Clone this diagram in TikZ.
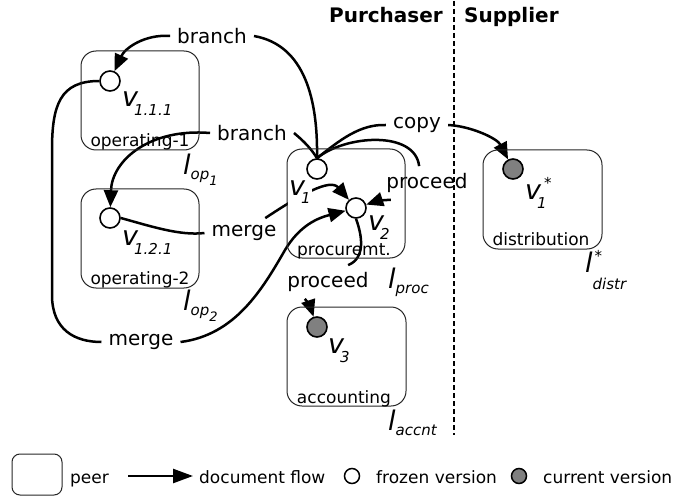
\documentclass[tikz,border=0pt]{standalone}
\usepackage{fontspec}
\setmainfont{DejaVu Sans}
\usetikzlibrary{arrows.meta}
\newcommand\Vsz{\fontsize{27}{28}\selectfont\itshape}
\newcommand\Ssz{\fontsize{15}{16}\selectfont\itshape}
\newcommand\SSsz{\fontsize{13}{14}\selectfont\itshape}
\newcommand\mkver[1]{{\Vsz v}\hspace{-4pt}\raisebox{-9pt}{\Ssz #1}}
\newcommand\mkloc[2]{{\Vsz l}\raisebox{-5pt}{\Ssz #1\raisebox{-6pt}{\SSsz #2}}}
\begin{document}
\begin{tikzpicture}[x=1pt,y=-1pt,
  peer/.style={draw=black!85, line width=1pt, rounded corners=15pt, inner sep=0pt},
  frozen/.style={circle, draw, line width=1.6pt, fill=white, minimum size=20pt, inner sep=0pt},
  current/.style={frozen, fill=black!50},
  flow/.style={line width=2.5pt, -{Triangle[length=17pt,width=14pt]}},
  plain/.style={line width=2.5pt},
  elab/.style={font=\fontsize{20}{24}\selectfont, inner sep=7pt},
  plab/.style={font=\fontsize{17}{18}\selectfont, inner sep=0pt, anchor=base},
  vlab/.style={inner sep=0pt, anchor=base west},
  leg/.style={font=\fontsize{17}{20}\selectfont, inner sep=0pt, anchor=base west},
  head/.style={font=\fontsize{20}{24}\selectfont\bfseries, inner sep=0pt}
]
\useasboundingbox (0,0) rectangle (674,497);

% headers and swimlane divider
\node[head, anchor=base east] (hp) at (443,23) {Purchaser};
\node[head, anchor=base west] (hs) at (464,23) {Supplier};
\coordinate (dtop) at (454,1);
\coordinate (dbot) at (454,435);
\draw[line width=1.3pt, dash pattern=on 5pt off 3pt] (dtop) -- (dbot);

% versions
\node[frozen] (v111) at (110,81) {};
\node[frozen] (v121) at (110,218) {};
\node[frozen] (v1) at (317,169) {};
\node[frozen] (v2) at (356,208) {};
\node[current] (v3) at (317,327) {};
\node[current] (v1s) at (513,169) {};

% edge labels
\node[elab] (brT) at (212,36) {branch};
\node[elab] (brM) at (252,133) {branch};
\node[elab] (mgM) at (244,233) {merge};
\node[elab] (mgB) at (141,342) {merge};
\node[elab] (cp) at (417,125) {copy};
\node[elab] (prR) at (427,183) {proceed};
\node[elab] (prL) at (328,282) {proceed};

% edges
\draw[plain] (v1.north) .. controls (318,100) and (305,45) .. (brT.east);
\draw[flow] (brT.west) .. controls (145,34) and (125,48) .. (v111);

\draw[plain] (v1.north) .. controls (312,150) and (305,142) .. (brM.east);
\draw[flow] (brM.west) .. controls (150,128) and (112,160) .. (v121);

\draw[plain] (v121.east) .. controls (150,226) and (180,236) .. (mgM.west);
\draw[flow] (mgM.35) .. controls (300,195) and (330,178) .. (v2);

\draw[plain] (v111.west) .. controls (60,81) and (52,105) .. (52,150) -- (52,295)
  .. controls (52,330) and (75,342) .. (mgB.west);
\draw[flow] (mgB.east) .. controls (235,335) and (262,290) .. (285,250)
  .. controls (300,225) and (318,218) .. (v2);

\draw[plain] (v1.north) .. controls (340,140) and (360,124) .. (cp.west);
\draw[flow] (cp.east) .. controls (470,126) and (497,138) .. (v1s);

\draw[plain] (v1.north) .. controls (345,135) and (415,130) .. (prR.115);
\draw[flow] (prR.205) .. controls (380,200) and (374,202) .. (v2);

\draw[plain] (v2.south) .. controls (362,235) and (366,258) .. (prL.40);
\draw[flow] (prL.216) .. controls (306,300) and (310,306) .. (v3);

% version labels
\node[vlab] (t111) at (122,107) {\mkver{1.1.1}};
\node[vlab] (t121) at (122,245) {\mkver{1.2.1}};
\node[vlab, fill=white, inner sep=1pt] (t1) at (288,195) {\mkver{1}};
\node[vlab] (t2) at (368,230) {\mkver{2}};
\node[vlab] (t3) at (328,353) {\mkver{3}};
\node[vlab] (t1s) at (525,200) {{\Vsz v}\hspace{-4pt}\makebox[0pt][l]{\raisebox{-9pt}{\Ssz 1}}\hspace{7pt}\raisebox{11pt}{\Ssz *}};

% peers
\node[peer, minimum width=118pt, minimum height=99pt] (op1) at (140,100.5) {};
\node[peer, minimum width=118pt, minimum height=99pt] (op2) at (140,238.5) {};
\node[peer, minimum width=118pt, minimum height=109pt] (proc) at (346,203.5) {};
\node[peer, minimum width=119pt, minimum height=99pt] (accnt) at (346.5,356.5) {};
\node[peer, minimum width=119pt, minimum height=99pt] (distr) at (542.5,199.5) {};

\node[plab] (nop1) at (140,147) {operating-1};
\node[plab] (nop2) at (140,284) {operating-2};
\node[plab] (nproc) at (344,255) {procuremt.};
\node[plab] (naccnt) at (344,403) {accounting};
\node[plab] (ndistr) at (541,245) {distribution};

% peer location labels
\node[vlab] (lop1) at (183,175) {\mkloc{op}{1}};
\node[vlab] (lop2) at (183,310) {\mkloc{op}{2}};
\node[vlab] (lproc) at (388,288) {{\Vsz l}\raisebox{-5pt}{\Ssz proc}};
\node[vlab] (laccnt) at (388,430) {{\Vsz l}\raisebox{-5pt}{\Ssz accnt}};
\node[vlab] (ldistr) at (585,272) {{\Vsz l}\makebox[0pt][l]{\raisebox{-17pt}{\Ssz distr}}\hspace{2pt}\raisebox{11pt}{\Ssz *}};

% legend
\node[peer, minimum width=50pt, minimum height=41pt, rounded corners=8pt] (lgpeer) at (37,474.5) {};
\node[leg] (lgpeert) at (70,483) {peer};
\coordinate (la1) at (128,476);
\coordinate (la2) at (193,476);
\draw[line width=2.5pt, -{Triangle[length=20pt,width=14pt]}] (la1) -- (la2);
\node[leg] (lgflow) at (199,483) {document flow};
\node[frozen, minimum size=15pt, line width=1.5pt] (lgfr) at (352,476) {};
\node[leg] (lgfrt) at (376,483) {frozen version};
\node[current, minimum size=15pt, line width=1.5pt] (lgcur) at (519,476) {};
\node[leg] (lgcurt) at (543,483) {current version};
\end{tikzpicture}
\end{document}
